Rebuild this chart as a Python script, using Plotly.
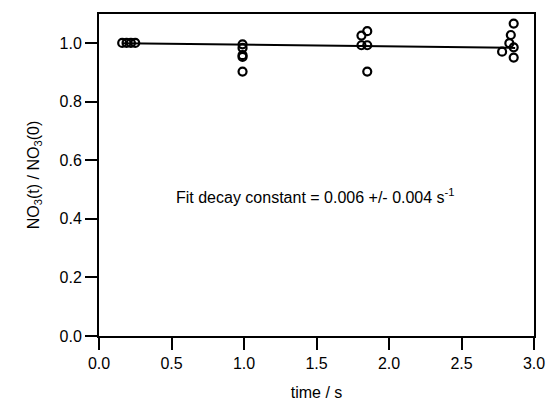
import numpy as np
import plotly.graph_objects as go

# Measured data (time in s, normalized NO3)
t_data = [0.16, 0.19, 0.22, 0.25,
          0.99, 0.99, 0.99, 0.99, 0.99,
          1.81, 1.85, 1.81, 1.85, 1.85,
          2.86, 2.84, 2.83, 2.78, 2.86, 2.86]
y_data = [1.0, 1.0, 1.0, 1.0,
          0.995, 0.983, 0.958, 0.952, 0.902,
          1.025, 1.040, 0.992, 0.992, 0.902,
          1.066, 1.027, 0.999, 0.970, 0.985, 0.950]

# Fit parameters
fit_A = 1.0
fit_k = 0.006
fit_t = [0.16, 2.87]

x_ticks = [0.0, 0.5, 1.0, 1.5, 2.0, 2.5, 3.0]
y_ticks = [0.0, 0.2, 0.4, 0.6, 0.8, 1.0]

tf = np.linspace(fit_t[0], fit_t[1], 50)
yf = fit_A * np.exp(-fit_k * tf)

font = dict(family="Liberation Sans, Arial, sans-serif", size=16, color="black")

fig = go.Figure()
fig.add_trace(go.Scatter(x=tf, y=yf, mode="lines",
                         line=dict(color="black", width=2), showlegend=False))
fig.add_trace(go.Scatter(x=t_data, y=y_data, mode="markers",
                         marker=dict(symbol="circle-open", size=8, color="black",
                                     line=dict(width=2.2, color="black")),
                         showlegend=False))

fig.add_annotation(x=0.517, y=0.476, xref="x", yref="y", xanchor="left", yanchor="middle",
                   text="Fit decay constant = 0.006 +/- 0.004 s<sup>-1</sup>",
                   showarrow=False, font=font)

axis_common = dict(showgrid=False, zeroline=False, showline=True, linecolor="black",
                   linewidth=2, mirror=True, ticks="outside", ticklen=12, tickwidth=2,
                   tickcolor="black", tickfont=font)

fig.update_xaxes(range=[0, 3.0], tickvals=x_ticks, ticktext=[f"{v:.1f}" for v in x_ticks],
                 title=dict(text="time / s", font=font, standoff=16), **axis_common)
fig.update_yaxes(range=[0, 1.0986], tickvals=y_ticks, ticktext=[f"{v:.1f}" for v in y_ticks],
                 title=dict(text="NO<sub>3</sub>(t) / NO<sub>3</sub>(0)", font=font, standoff=16),
                 **axis_common)

fig.update_layout(width=557, height=411, margin=dict(l=99, r=17, t=14, b=74),
                  plot_bgcolor="white", paper_bgcolor="white", font=font)

fig.write_html("out.html")
